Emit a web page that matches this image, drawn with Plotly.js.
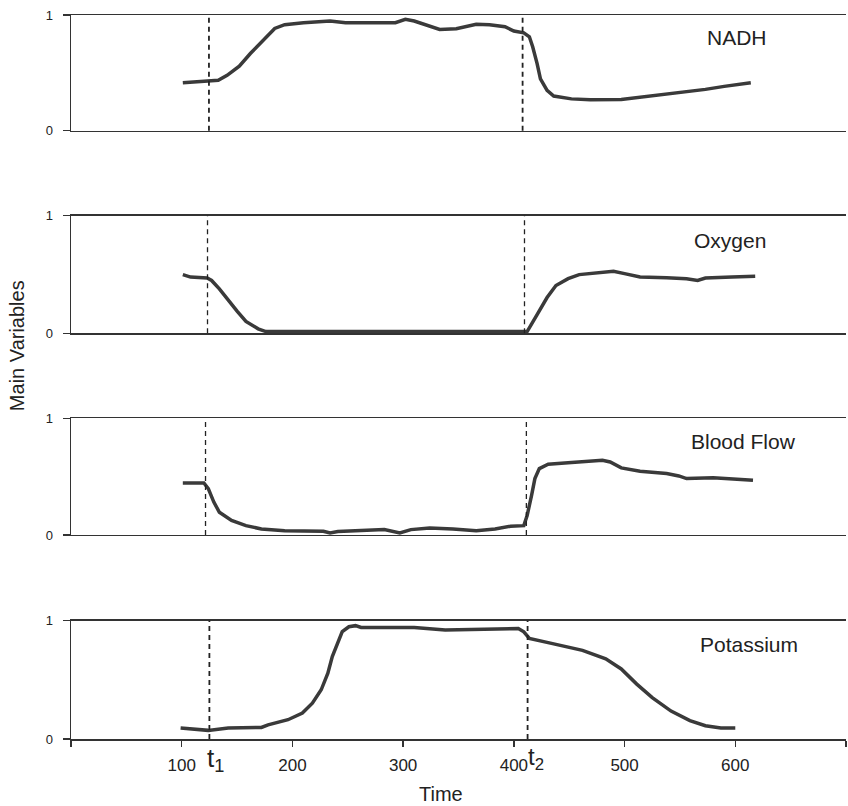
<!DOCTYPE html>
<html>
<head>
<meta charset="utf-8">
<script src="https://cdn.plot.ly/plotly-3.0.1.min.js"></script>
<style>html,body{margin:0;padding:0;background:#fff;}#chart{width:848px;height:806px;}</style>
</head>
<body>
<div id="chart"></div>
<script>
// ---- data ----
const panelNames = ["NADH", "Oxygen", "Blood Flow", "Potassium"];

const timeNADH = [101,124,133,141,152,162,174,184,193,210,234,248,293,302,310,324,333,348,366,378,392,400,409,414,417,421,424,430,436,452,469,497,521,538,556,573,590,604,614];
const nadh     = [0.414,0.429,0.435,0.478,0.557,0.667,0.788,0.884,0.916,0.933,0.948,0.933,0.933,0.962,0.948,0.907,0.875,0.881,0.919,0.916,0.899,0.861,0.846,0.812,0.725,0.580,0.449,0.348,0.299,0.275,0.267,0.270,0.296,0.313,0.336,0.357,0.383,0.400,0.414];

const timeOxygen = [101,108,123,127,134,141,150,158,169,176,228,262,331,397,412,421,430,438,449,459,480,490,500,514,538,556,566,573,597,618];
const oxygen     = [0.499,0.478,0.470,0.449,0.377,0.290,0.188,0.101,0.038,0.014,0.014,0.009,0.009,0.014,0.014,0.159,0.304,0.406,0.464,0.499,0.522,0.528,0.507,0.478,0.472,0.464,0.449,0.470,0.478,0.484];

const timeFlow = [101,120,124,129,134,145,158,172,193,228,234,241,283,297,307,324,345,366,383,397,409,412,416,419,423,431,449,469,480,487,497,514,538,549,556,580,601,616];
const flow     = [0.445,0.445,0.397,0.282,0.195,0.124,0.080,0.052,0.037,0.032,0.017,0.029,0.046,0.017,0.046,0.060,0.052,0.037,0.052,0.075,0.080,0.167,0.339,0.483,0.569,0.606,0.618,0.635,0.641,0.626,0.575,0.546,0.526,0.506,0.483,0.491,0.474,0.468];

const timeK = [99,124,142,172,178,196,209,218,226,232,236,241,245,251,257,262,310,338,404,409,414,435,462,483,497,511,525,542,559,573,587,600];
const potassium = [0.093,0.073,0.093,0.098,0.120,0.163,0.219,0.303,0.416,0.556,0.697,0.810,0.907,0.949,0.958,0.943,0.943,0.921,0.934,0.906,0.850,0.806,0.749,0.678,0.592,0.464,0.350,0.236,0.156,0.112,0.093,0.093];

const t1Marks = [124.6, 123.3, 121.5, 125.0];   // dashed line t1 per panel
const t2Marks = [407.9, 409.6, 411.3, 412.4];   // dashed line t2 per panel

const xTickVals = [100,200,300,400,500,600];
const xTickText = ["100","200","300","400","500","600"];
const xEndTicks = [0,700];
const yTickVals = [0,1];
const yTickText = ["0","1"];

// ---- layout helpers ----
const FONT = "Liberation Sans, Arial, Helvetica, sans-serif";
const series = [[timeNADH,nadh],[timeOxygen,oxygen],[timeFlow,flow],[timeK,potassium]];
const domains = [[0.8402,1.0],[0.5604,0.7228],[0.2818,0.4430],[0,0.1634]];
const labelPos = [[0.818,0.9696],[0.801,0.688],[0.797,0.4116],[0.809,0.1312]];
const dashW = [1.8,1.3,1.3,1.8];

const traces = [];
const layout = {
  width: 848, height: 806,
  margin: {l:71, r:2, t:15, b:67},
  paper_bgcolor: "#fff", plot_bgcolor: "#fff",
  showlegend: false,
  font: {family: FONT, color: "#222"},
  shapes: [], annotations: []
};

series.forEach((s, i) => {
  const n = i + 1;
  const xa = n === 1 ? "x" : "x" + n;
  const ya = n === 1 ? "y" : "y" + n;
  traces.push({
    x: s[0], y: s[1], xaxis: xa, yaxis: ya,
    type: "scatter", mode: "lines",
    line: {color: "#3a3a3a", width: 3.5, shape: "linear"},
    hoverinfo: "skip"
  });
  const isLast = n === 4;
  const xaxis = {
    range: [0, 700], anchor: ya, domain: [0,1],
    showline: true, mirror: true, linecolor: "#333", linewidth: 1.5,
    showgrid: false, zeroline: false,
    ticks: "", showticklabels: false
  };
  if (isLast) {
    Object.assign(xaxis, {
      ticks: "outside", ticklen: 6, tickwidth: 1.5, tickcolor: "#333",
      tickmode: "array", tickvals: xTickVals, ticktext: xTickText,
      showticklabels: true,
      tickfont: {family: FONT, size: 17, color: "#222"},
      ticklabelstandoff: 4,
      minor: {tickmode: "array", tickvals: xEndTicks, ticks: "outside", ticklen: 6, tickwidth: 1.5, tickcolor: "#333"}
    });
  }
  layout["xaxis" + (n === 1 ? "" : n)] = xaxis;
  layout["yaxis" + (n === 1 ? "" : n)] = {
    range: [0, 1], domain: domains[i], anchor: xa,
    showline: true, mirror: false, linecolor: "#333", linewidth: 1.5,
    showgrid: false, zeroline: false,
    ticks: "outside", ticklen: 7, tickwidth: 1.5, tickcolor: "#333",
    tickmode: "array", tickvals: yTickVals, ticktext: yTickText,
    tickfont: {family: FONT, size: 13, color: "#222"},
    ticklabelstandoff: 7
  };
  [t1Marks[i], t2Marks[i]].forEach(tv => {
    layout.shapes.push({
      type: "line", xref: xa, yref: ya + " domain",
      x0: tv, x1: tv, y0: 0, y1: 1,
      line: {color: "#222", width: dashW[i], dash: "5px,4px"}
    });
  });
  layout.annotations.push({
    text: panelNames[i], xref: "paper", yref: "paper",
    x: labelPos[i][0], y: labelPos[i][1], xanchor: "left", yanchor: "middle",
    showarrow: false, font: {family: FONT, size: 21, color: "#222"}
  });
});

// t1 / t2 labels under the time axis
layout.annotations.push({
  text: "t<sub>1</sub>", xref: "x4", yref: "paper", x: t1Marks[3] - 4, y: -0.003,
  xanchor: "left", yanchor: "top", showarrow: false,
  font: {family: FONT, size: 26, color: "#222"}
});
layout.annotations.push({
  text: "t<sub>2</sub>", xref: "x4", yref: "paper", x: t2Marks[3] - 1, y: -0.003,
  xanchor: "left", yanchor: "top", showarrow: false,
  font: {family: FONT, size: 24, color: "#222"}
});
// axis titles
layout.annotations.push({
  text: "Time", xref: "paper", yref: "paper", x: 0.477, y: -0.076,
  xanchor: "center", yanchor: "middle", showarrow: false,
  font: {family: FONT, size: 20, color: "#222"}
});
layout.annotations.push({
  text: "Main Variables", xref: "paper", yref: "paper", x: -0.0697, y: 0.544,
  xanchor: "center", yanchor: "middle", textangle: -90, showarrow: false,
  font: {family: FONT, size: 20, color: "#222"}
});

Plotly.newPlot("chart", traces, layout, {staticPlot: true, displayModeBar: false});
</script>
</body>
</html>
